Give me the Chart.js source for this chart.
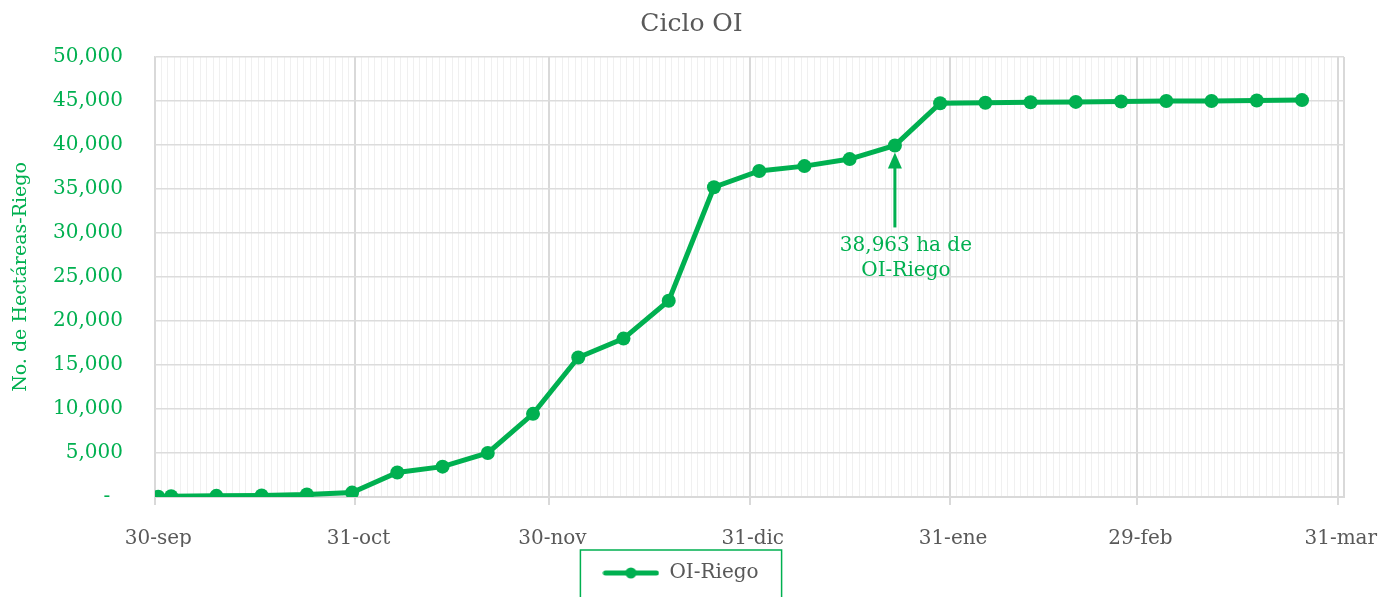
<!DOCTYPE html>
<html><head><meta charset="utf-8">
<script src="https://cdn.jsdelivr.net/npm/chart.js@4/dist/chart.umd.min.js"></script>
<style>html,body{margin:0;padding:0;background:#fff;overflow:hidden}</style>
</head><body>
<canvas id="c" width="1383" height="597" style="width:1383px;height:597px;display:block"></canvas>
<script>
// ---- data ----
const fechas = ["2023-09-30","2023-10-02","2023-10-09","2023-10-16","2023-10-23","2023-10-30",
  "2023-11-06","2023-11-13","2023-11-20","2023-11-27","2023-12-04","2023-12-11","2023-12-18",
  "2023-12-25","2024-01-01","2024-01-08","2024-01-15","2024-01-22","2024-01-29","2024-02-05",
  "2024-02-12","2024-02-19","2024-02-26","2024-03-04","2024-03-11","2024-03-18","2024-03-25"];
const hectareas = [30, 80, 130, 180, 280, 500,
  2780, 3450, 5000, 9450, 15850, 18000, 22300,
  35200, 37050, 37600, 38400, 39950, 44750, 44800,
  44850, 44900, 44950, 45000, 45000, 45050, 45100];
const fechaInicio = "2023-09-30";
const fechaFin = "2024-03-31";
const tickFechas = ["2023-09-30","2023-10-31","2023-11-30","2023-12-31","2024-01-31","2024-02-29","2024-03-31"];
const tickEtiquetas = ["30-sep","31-oct","30-nov","31-dic","31-ene","29-feb","31-mar"];
const yMin = 0, yMax = 50000, yPaso = 5000;
const titulo = "Ciclo OI";
const nombreSerie = "OI-Riego";
const tituloEjeY = "No. de Hectáreas-Riego";
const notaFecha = "2024-01-22";
const notaTexto = ["38,963 ha de", "OI-Riego"];

// ---- helpers ----
const dia = s => { const [y,m,d] = s.split('-').map(Number); const [y0,m0,d0] = fechaInicio.split('-').map(Number);
  return Math.round((Date.UTC(y,m-1,d) - Date.UTC(y0,m0-1,d0)) / 86400000); };
const totalDias = dia(fechaFin);
const tickDias = tickFechas.map(dia);
const puntos = fechas.map((f,i) => ({x: dia(f), y: hectareas[i]}));

const VERDE = '#00b050', GRIS = '#595959';
const FONT = "'DejaVu Serif', serif";

// legend glyph: line + dot
const glyph = document.createElement('canvas');
glyph.width = 57; glyph.height = 14;
(() => { const g = glyph.getContext('2d');
  g.strokeStyle = VERDE; g.lineWidth = 5; g.lineCap = 'round';
  g.beginPath(); g.moveTo(3,7); g.lineTo(54,7); g.stroke();
  g.fillStyle = VERDE; g.beginPath(); g.arc(28.5,7,5.5,0,Math.PI*2); g.fill(); })();

const annotation = {
  id: 'nota',
  afterDatasetsDraw(chart) {
    const {ctx, scales: {x, y}} = chart;
    const d = dia(notaFecha);
    const idx = puntos.findIndex(p => p.x === d);
    const px = x.getPixelForValue(d), py = y.getPixelForValue(puntos[idx].y);
    ctx.save();
    ctx.strokeStyle = VERDE; ctx.fillStyle = VERDE; ctx.lineWidth = 3;
    const tip = py + 7;
    ctx.beginPath(); ctx.moveTo(px, tip + 14); ctx.lineTo(px, py + 82); ctx.stroke();
    ctx.beginPath(); ctx.moveTo(px, tip); ctx.lineTo(px - 7, tip + 16); ctx.lineTo(px + 7, tip + 16); ctx.closePath(); ctx.fill();
    ctx.font = "20px " + FONT; ctx.textAlign = 'center'; ctx.textBaseline = 'middle';
    ctx.fillText(notaTexto[0], px + 11, py + 100);
    ctx.fillText(notaTexto[1], px + 11, py + 125);
    ctx.restore();
  }
};

const LEGEND_SHIFT = -11;
const legendBox = {
  id: 'legendBox',
  beforeDraw(chart) {
    const lg = chart.legend;
    if (lg && !lg._shifted) { lg.left += LEGEND_SHIFT; lg.right += LEGEND_SHIFT; lg._shifted = true; }
  },
  afterDraw(chart) {
    const lg = chart.legend;
    if (!lg || !lg.legendHitBoxes || !lg.legendHitBoxes.length) return;
    const h = lg.legendHitBoxes[0];
    const cy = h.top + h.height / 2;
    const ctx = chart.ctx;
    ctx.save();
    ctx.strokeStyle = VERDE; ctx.lineWidth = 1.5;
    ctx.strokeRect(h.left + LEGEND_SHIFT - 22, cy - 23, h.width + 45, 80);
    ctx.restore();
  }
};

const isMajor = c => !c.tick || tickDias.includes(c.tick.value);

new Chart(document.getElementById('c'), {
  type: 'line',
  data: { datasets: [{
    label: nombreSerie, data: puntos,
    borderColor: VERDE, backgroundColor: VERDE, borderWidth: 5,
    pointRadius: 7, pointHoverRadius: 7, pointBackgroundColor: VERDE, pointBorderWidth: 0,
    tension: 0, pointStyle: 'circle'
  }]},
  options: {
    responsive: false, animation: false, devicePixelRatio: 1,
    layout: { padding: { left: 0, right: 0, top: 0, bottom: 4 } },
    plugins: {
      title: { display: true, text: titulo, color: GRIS, font: { family: FONT, size: 25, weight: 'normal' }, padding: { top: 9, bottom: 18 } },
      legend: { position: 'bottom', labels: { color: GRIS, font: { family: FONT, size: 20 }, usePointStyle: true, pointStyleWidth: 57, padding: 16,
        generateLabels: (chart) => [{ text: nombreSerie, pointStyle: glyph, fillStyle: VERDE, strokeStyle: VERDE, lineWidth: 0, fontColor: GRIS, datasetIndex: 0, hidden: false }] } },
      tooltip: { enabled: false }
    },
    scales: {
      x: {
        type: 'linear', min: -0.5, max: totalDias + 0.5,
        afterBuildTicks: s => { const t = []; for (let i = 0; i <= totalDias; i++) t.push({ value: i }); s.ticks = t; },
        afterFit: s => { s.height = 50; s.paddingLeft = 0; s.paddingRight = 39; },
        ticks: { autoSkip: false, maxRotation: 0, minRotation: 0, color: GRIS, font: { family: FONT, size: 20 }, padding: 22,
          callback: v => { const i = tickDias.indexOf(v); return i >= 0 ? tickEtiquetas[i] : ''; } },
        grid: { offset: true, tickLength: 8,
          color: c => isMajor(c) ? '#d9d9d9' : '#f0f0f0',
          lineWidth: c => isMajor(c) ? 2 : 1,
          tickColor: c => (c.tick && tickDias.includes(c.tick.value)) ? '#d9d9d9' : 'rgba(0,0,0,0)',
          tickWidth: 2 },
        border: { color: '#d9d9d9', width: 2 }
      },
      y: {
        min: yMin, max: yMax,
        afterFit: s => { s.width = 155; },
        ticks: { stepSize: yPaso, color: VERDE, font: { family: FONT, size: 20 }, padding: 32,
          callback: v => v === 0 ? '-  ' : v.toLocaleString('en-US') },
        grid: { color: '#dcdcdc', lineWidth: 1.5, drawTicks: false },
        border: { color: '#d9d9d9', width: 1.5 },
        title: { display: true, text: tituloEjeY, color: VERDE, font: { family: FONT, size: 19 }, padding: { top: 10, bottom: 0 } }
      }
    }
  },
  plugins: [annotation, legendBox]
});
</script>
</body></html>
